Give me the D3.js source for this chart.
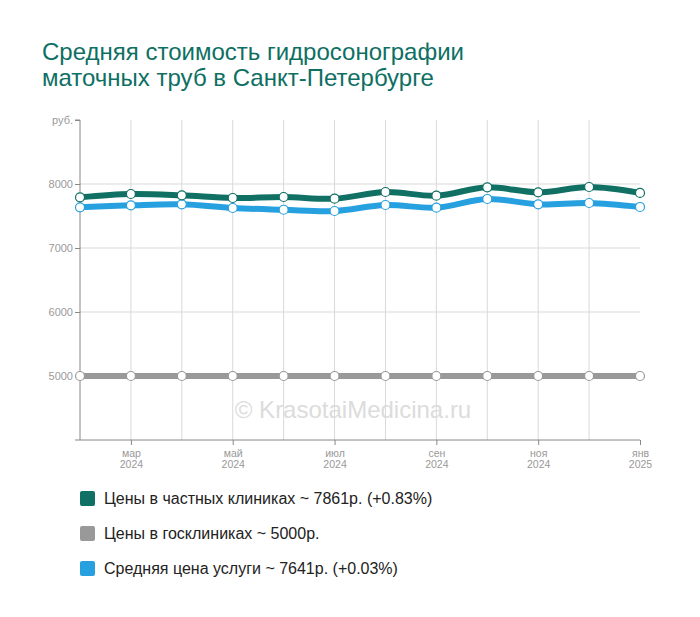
<!DOCTYPE html>
<html>
<head>
<meta charset="utf-8">
<script src="https://cdn.jsdelivr.net/npm/d3@7"></script>
<style>
  body { margin: 0; background: #fff; font-family: Arial, "Liberation Sans", sans-serif; }
</style>
</head>
<body>
<div id="chart"></div>
<script>
var svgWidth = 700;
var svgHeight = 617;

var margin = { top: 120, right: 60, bottom: 177, left: 80 };
var width = svgWidth - margin.left - margin.right;
var height = svgHeight - margin.top - margin.bottom;

// data
var months = ['фев', 'мар', 'апр', 'май', 'июн', 'июл', 'авг', 'сен', 'окт', 'ноя', 'дек', 'янв'];
var years = ['2024', '2024', '2024', '2024', '2024', '2024', '2024', '2024', '2024', '2024', '2024', '2025'];
var privatePrices = [7792, 7844, 7823, 7781, 7797, 7770, 7875, 7817, 7948, 7870, 7953, 7861];
var statePrices = [5000, 5000, 5000, 5000, 5000, 5000, 5000, 5000, 5000, 5000, 5000, 5000];
var averagePrices = [7636, 7667, 7683, 7625, 7598, 7578, 7672, 7630, 7766, 7683, 7703, 7641];
var yTicks = [5000, 6000, 7000, 8000];
var legendLabels = [
  'Цены в частных клиниках ~ 7861р. (+0.83%)',
  'Цены в госклиниках ~ 5000р.',
  'Средняя цена услуги ~ 7641р. (+0.03%)'
];

var green = '#0f7063';
var grey = '#999999';
var blue = '#27a0e0';

var svg = d3.select('#chart')
            .append('svg')
            .attr('width', svgWidth)
            .attr('height', svgHeight);

// title, two lines
var titleLines = ['Средняя стоимость гидросонографии', 'маточных труб в Санкт-Петербурге'];
svg.selectAll('.title')
   .data(titleLines)
   .enter()
   .append('text')
   .attr('class', 'title')
   .attr('x', 42)
   .attr('y', (d, i) => 60 + i * 26)
   .style('font-size', '24px')
   .style('fill', '#0e6f63')
   .text(d => d);

var g = svg.append('g')
           .attr('transform', `translate(${margin.left}, ${margin.top})`);

var idx = d3.range(months.length);

var xScale = d3.scalePoint()
               .domain(idx)
               .range([0, width]);

var yScale = d3.scaleLinear()
               .domain([4000, 9000])
               .range([height, 0]);

// vertical grid
g.append('g')
 .selectAll('line')
 .data(idx.slice(1, -1))
 .enter()
 .append('line')
 .attr('x1', d => xScale(d))
 .attr('x2', d => xScale(d))
 .attr('y1', 0)
 .attr('y2', height)
 .attr('stroke', '#d9d9d9');

// horizontal grid
g.append('g')
 .selectAll('line')
 .data(yTicks)
 .enter()
 .append('line')
 .attr('x1', 0)
 .attr('x2', width)
 .attr('y1', d => yScale(d))
 .attr('y2', d => yScale(d))
 .attr('stroke', '#d9d9d9');

// y axis
var yAxis = d3.axisLeft(yScale)
              .tickValues(yTicks.concat([9000]))
              .tickSize(5)
              .tickFormat(d => d === 9000 ? 'руб.' : d);

var yAxisGroup = g.append('g').call(yAxis);
yAxisGroup.select('.domain').attr('stroke', '#888').attr('d', `M-5,0H0V${height}`);
yAxisGroup.selectAll('.tick line').attr('stroke', '#888');
yAxisGroup.selectAll('.tick text')
          .attr('x', -7)
          .style('font-size', '11px')
          .style('font-family', 'Arial, sans-serif')
          .style('fill', '#999');

// x axis
var labelled = idx.filter(i => i % 2 === 1);
var xAxis = d3.axisBottom(xScale)
              .tickValues(labelled)
              .tickSize(5)
              .tickFormat(d => months[d]);

var xAxisGroup = g.append('g')
                  .attr('transform', `translate(0, ${height})`)
                  .call(xAxis);
xAxisGroup.select('.domain').attr('stroke', '#888').attr('d', `M-5,0H${width}`);
xAxisGroup.selectAll('.tick line').attr('stroke', '#888');
xAxisGroup.selectAll('.tick text')
          .attr('y', 10)
          .style('font-size', '10.5px')
          .style('font-family', 'Arial, sans-serif')
          .style('fill', '#999')
          .each(function(d) {
            d3.select(this).append('tspan')
              .attr('x', 0)
              .attr('dy', '1.0em')
              .text(years[d]);
          });

// watermark
g.append('text')
 .attr('x', 273)
 .attr('y', 298)
 .attr('text-anchor', 'middle')
 .style('font-size', '24px')
 .style('fill', '#dcdcdc')
 .text('© KrasotaiMedicina.ru');

// lines
var series = [
  { values: statePrices, color: grey },
  { values: averagePrices, color: blue },
  { values: privatePrices, color: green }
];

var line = d3.line()
             .x((d, i) => xScale(i))
             .y(d => yScale(d))
             .curve(d3.curveCatmullRom.alpha(0.5));

series.forEach(function(s) {
  g.append('path')
   .datum(s.values)
   .attr('d', line)
   .attr('fill', 'none')
   .attr('stroke', s.color)
   .attr('stroke-width', 6);
});

series.forEach(function(s) {
  g.append('g')
   .selectAll('circle')
   .data(s.values)
   .enter()
   .append('circle')
   .attr('cx', (d, i) => xScale(i))
   .attr('cy', d => yScale(d))
   .attr('r', 4.5)
   .attr('fill', '#fff')
   .attr('stroke', s.color)
   .attr('stroke-width', 1.2);
});

// legend
var legend = svg.append('g')
                .attr('transform', 'translate(80, 491)');

var items = legend.selectAll('g')
                  .data(legendLabels)
                  .enter()
                  .append('g')
                  .attr('transform', (d, i) => `translate(0, ${i * 35})`);

items.append('rect')
     .attr('width', 15)
     .attr('height', 15)
     .attr('rx', 2)
     .attr('fill', (d, i) => [green, grey, blue][i]);

items.append('text')
     .attr('x', 24)
     .attr('y', 13)
     .style('font-size', '16px')
     .style('fill', '#222')
     .text(d => d);
</script>
</body>
</html>
